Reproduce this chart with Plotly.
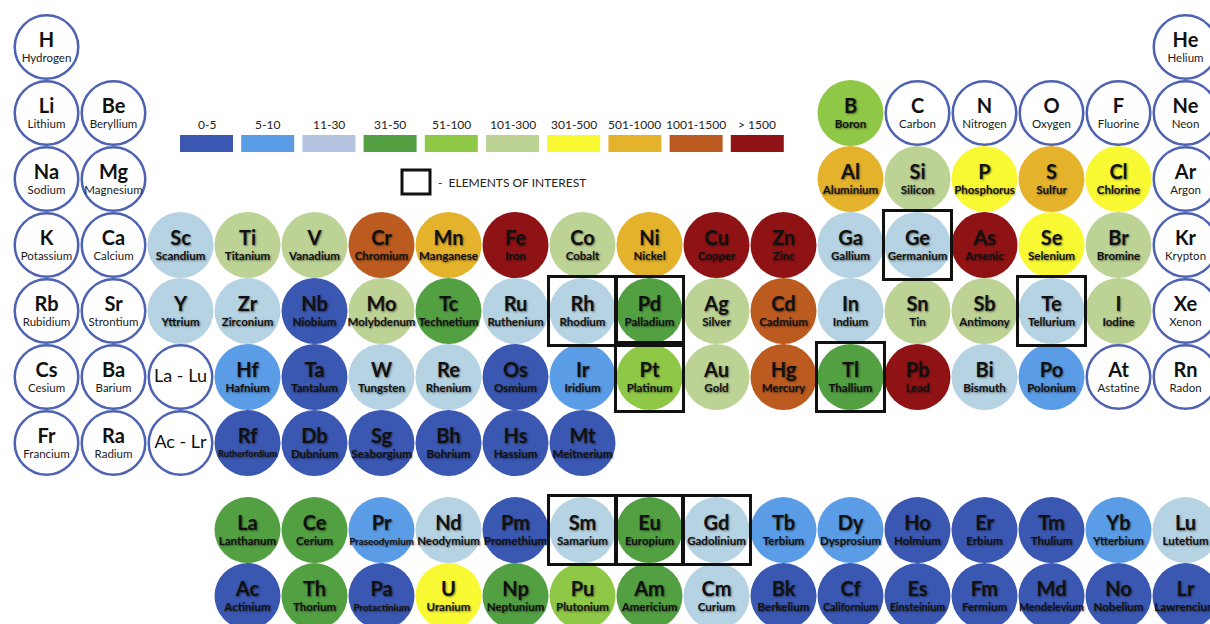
import plotly.graph_objects as go

# bins of the colour scale
bin_labels = ['0-5', '5-10', '11-30', '31-50', '51-100', '101-300',
              '301-500', '501-1000', '1001-1500', '> 1500']

# element data, one entry per circle. period 8/9 = lanthanide / actinide rows
symbols = [
    'H', 'He',
    'Li', 'Be', 'B', 'C', 'N', 'O', 'F', 'Ne',
    'Na', 'Mg', 'Al', 'Si', 'P', 'S', 'Cl', 'Ar',
    'K', 'Ca', 'Sc', 'Ti', 'V', 'Cr', 'Mn', 'Fe', 'Co', 'Ni', 'Cu', 'Zn', 'Ga', 'Ge', 'As', 'Se', 'Br', 'Kr',
    'Rb', 'Sr', 'Y', 'Zr', 'Nb', 'Mo', 'Tc', 'Ru', 'Rh', 'Pd', 'Ag', 'Cd', 'In', 'Sn', 'Sb', 'Te', 'I', 'Xe',
    'Cs', 'Ba', 'La - Lu', 'Hf', 'Ta', 'W', 'Re', 'Os', 'Ir', 'Pt', 'Au', 'Hg', 'Tl', 'Pb', 'Bi', 'Po', 'At', 'Rn',
    'Fr', 'Ra', 'Ac - Lr', 'Rf', 'Db', 'Sg', 'Bh', 'Hs', 'Mt',
    'La', 'Ce', 'Pr', 'Nd', 'Pm', 'Sm', 'Eu', 'Gd', 'Tb', 'Dy', 'Ho', 'Er', 'Tm', 'Yb', 'Lu',
    'Ac', 'Th', 'Pa', 'U', 'Np', 'Pu', 'Am', 'Cm', 'Bk', 'Cf', 'Es', 'Fm', 'Md', 'No', 'Lr',
]
names = [
    'Hydrogen', 'Helium',
    'Lithium', 'Beryllium', 'Boron', 'Carbon', 'Nitrogen', 'Oxygen', 'Fluorine', 'Neon',
    'Sodium', 'Magnesium', 'Aluminium', 'Silicon', 'Phosphorus', 'Sulfur', 'Chlorine', 'Argon',
    'Potassium', 'Calcium', 'Scandium', 'Titanium', 'Vanadium', 'Chromium', 'Manganese', 'Iron', 'Cobalt',
    'Nickel', 'Copper', 'Zinc', 'Gallium', 'Germanium', 'Arsenic', 'Selenium', 'Bromine', 'Krypton',
    'Rubidium', 'Strontium', 'Yttrium', 'Zirconium', 'Niobium', 'Molybdenum', 'Technetium', 'Ruthenium',
    'Rhodium', 'Palladium', 'Silver', 'Cadmium', 'Indium', 'Tin', 'Antimony', 'Tellurium', 'Iodine', 'Xenon',
    'Cesium', 'Barium', '', 'Hafnium', 'Tantalum', 'Tungsten', 'Rhenium', 'Osmium', 'Iridium', 'Platinum',
    'Gold', 'Mercury', 'Thallium', 'Lead', 'Bismuth', 'Polonium', 'Astatine', 'Radon',
    'Francium', 'Radium', '', 'Rutherfordium', 'Dubnium', 'Seaborgium', 'Bohrium', 'Hassium', 'Meitnerium',
    'Lanthanum', 'Cerium', 'Praseodymium', 'Neodymium', 'Promethium', 'Samarium', 'Europium', 'Gadolinium',
    'Terbium', 'Dysprosium', 'Holmium', 'Erbium', 'Thulium', 'Ytterbium', 'Lutetium',
    'Actinium', 'Thorium', 'Protactinium', 'Uranium', 'Neptunium', 'Plutonium', 'Americium', 'Curium',
    'Berkelium', 'Californium', 'Einsteinium', 'Fermium', 'Mendelevium', 'Nobelium', 'Lawrencium',
]
groups = (
    [1, 18]
    + [1, 2, 13, 14, 15, 16, 17, 18]
    + [1, 2, 13, 14, 15, 16, 17, 18]
    + list(range(1, 19))
    + list(range(1, 19))
    + list(range(1, 19))
    + list(range(1, 10))
    + list(range(4, 19))
    + list(range(4, 19))
)
periods = [1] * 2 + [2] * 8 + [3] * 8 + [4] * 18 + [5] * 18 + [6] * 18 + [7] * 9 + [8] * 15 + [9] * 15

# index into bin_labels, -1 = no data (white circle)
bins = [
    -1, -1,
    -1, -1, 4, -1, -1, -1, -1, -1,
    -1, -1, 7, 5, 6, 7, 6, -1,
    -1, -1, 2, 5, 5, 8, 7, 9, 5, 7, 9, 9, 2, 2, 9, 6, 5, -1,
    -1, -1, 2, 2, 0, 5, 3, 2, 2, 3, 5, 8, 2, 5, 5, 2, 5, -1,
    -1, -1, -1, 1, 0, 2, 2, 0, 1, 4, 5, 8, 3, 9, 2, 1, -1, -1,
    -1, -1, -1, 0, 0, 0, 0, 0, 0,
    3, 3, 1, 2, 0, 2, 3, 2, 1, 1, 0, 0, 0, 1, 2,
    0, 3, 0, 6, 3, 4, 3, 2, 0, 0, 0, 0, 0, 0, 0,
]

interest = ['Ge', 'Rh', 'Pd', 'Pt', 'Tl', 'Te', 'Sm', 'Eu', 'Gd']

# styling
circle_colors = ['#3a57b1', '#5b9ce6', '#b5d3e2', '#53a043', '#8fc846',
                 '#bdd396', '#f9f933', '#e5b22b', '#bc5b1f', '#8f1315']
legend_colors = ['#3a57b1', '#5b9ce6', '#b3c3e0', '#53a043', '#8fc846',
                 '#bdd396', '#f9f933', '#e5b22b', '#bc5b1f', '#8f1315']
OUTLINE = '#4d62b2'
FONT = 'Lato, Open Sans, sans-serif'
W, H = 1210, 624
PX_X, PX_Y = 67.0, 66.0      # pixels per column / row
F_GAP = 0.32                 # extra space above lanthanide block


def row_of(p):
    return p + F_GAP if p >= 8 else p


def name_size(n):
    # shrink long names so they stay inside the circle
    return min(11.5, 61 / (0.52 * max(len(n), 1)))


xs = groups
ys = [row_of(p) for p in periods]
sym_dy = -5 / PX_Y
name_dy = 12 / PX_Y

filled = [i for i, b in enumerate(bins) if b >= 0]
empty = [i for i, b in enumerate(bins) if b < 0]

fig = go.Figure()

fig.add_trace(go.Scatter(
    x=[xs[i] for i in empty], y=[ys[i] for i in empty], mode='markers',
    marker=dict(size=63.5, color='white', line=dict(color=OUTLINE, width=2.5)),
    hoverinfo='skip'))
fig.add_trace(go.Scatter(
    x=[xs[i] for i in filled], y=[ys[i] for i in filled], mode='markers',
    marker=dict(size=66, color=[circle_colors[bins[i]] for i in filled], line=dict(width=0)),
    hoverinfo='skip'))

# symbol / name text
shadow = '1px 1px 2px rgba(0,0,0,0.5)'
fig.add_trace(go.Scatter(
    x=[xs[i] for i in filled], y=[ys[i] + sym_dy for i in filled], mode='text',
    text=[symbols[i] for i in filled],
    textfont=dict(family=FONT, size=20, color='#111111', weight='bold', shadow=shadow),
    hoverinfo='skip'))
fig.add_trace(go.Scatter(
    x=[xs[i] for i in filled], y=[ys[i] + name_dy for i in filled], mode='text',
    text=[names[i] for i in filled],
    textfont=dict(family=FONT, size=[name_size(names[i]) for i in filled], color='#111111',
                  weight='bold', shadow=shadow),
    hoverinfo='skip'))

plain = [i for i in empty if names[i]]
ranges = [i for i in empty if not names[i]]
fig.add_trace(go.Scatter(
    x=[xs[i] for i in plain], y=[ys[i] + sym_dy for i in plain], mode='text',
    text=[symbols[i] for i in plain],
    textfont=dict(family=FONT, size=20, color='#111111', weight='bold'),
    hoverinfo='skip'))
fig.add_trace(go.Scatter(
    x=[xs[i] for i in plain], y=[ys[i] + name_dy for i in plain], mode='text',
    text=[names[i] for i in plain],
    textfont=dict(family=FONT, size=[name_size(names[i]) for i in plain], color='#1a1a1a'),
    hoverinfo='skip'))
fig.add_trace(go.Scatter(
    x=[xs[i] for i in ranges], y=[ys[i] for i in ranges], mode='text',
    text=[symbols[i] for i in ranges],
    textfont=dict(family=FONT, size=18, color='#111111'),
    hoverinfo='skip'))

# boxes round the elements of interest
shapes = []
for s in interest:
    i = symbols.index(s)
    shapes.append(dict(type='rect', xref='x', yref='y',
                       x0=xs[i] - 34 / PX_X, x1=xs[i] + 34 / PX_X,
                       y0=ys[i] - 34.5 / PX_Y, y1=ys[i] + 34.5 / PX_Y,
                       line=dict(color='#111111', width=3)))

# colour scale legend (pixel positions)
annotations = []
for k, lab in enumerate(bin_labels):
    x0 = 180 + k * 61.2
    shapes.append(dict(type='rect', xref='paper', yref='paper',
                       x0=x0 / W, x1=(x0 + 53) / W, y0=1 - 152 / H, y1=1 - 135 / H,
                       fillcolor=legend_colors[k], line=dict(width=0)))
    annotations.append(dict(x=(x0 + 26.5) / W, y=1 - 125 / H, xref='paper', yref='paper',
                            text=lab, showarrow=False, xanchor='center', yanchor='middle',
                            font=dict(family=FONT, size=12, color='#222222')))

shapes.append(dict(type='rect', xref='paper', yref='paper',
                   x0=402 / W, x1=430 / W, y0=1 - 194 / H, y1=1 - 170 / H,
                   line=dict(color='#111111', width=3)))
annotations.append(dict(x=436 / W, y=1 - 182 / H, xref='paper', yref='paper',
                        text='-  ELEMENTS OF INTEREST', showarrow=False,
                        xanchor='left', yanchor='middle',
                        font=dict(family=FONT, size=12, color='#222222')))

fig.update_layout(
    width=W, height=H,
    margin=dict(l=0, r=0, t=0, b=0),
    paper_bgcolor='white', plot_bgcolor='white',
    showlegend=False, hovermode=False,
    shapes=shapes, annotations=annotations,
    xaxis=dict(range=[1 - 46.5 / PX_X, 1 + (W - 46.5) / PX_X], visible=False, fixedrange=True),
    yaxis=dict(range=[1 + (H - 47) / PX_Y, 1 - 47 / PX_Y], visible=False, fixedrange=True),
)

# drop the default page margin so the figure sits at the window's corner
fig.write_html('out.html', config={'displayModeBar': False},
               post_script="document.body.style.margin='0';")
